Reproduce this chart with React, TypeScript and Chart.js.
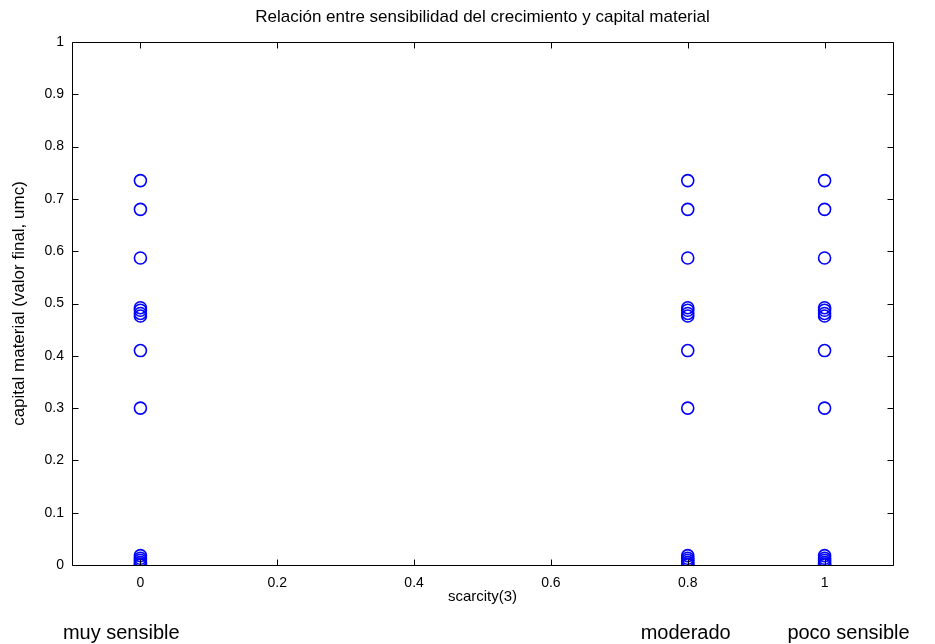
import React, { useEffect, useRef } from "react";
import { Chart, registerables } from "chart.js";

Chart.register(...registerables);

const chartTitle = "Relación entre sensibilidad del crecimiento y capital material";
const xAxisTitle = "scarcity(3)";
const yAxisTitle = "capital material (valor final, umc)";
const xCategories = [0, 0.8, 1];
const capitalValues = [0.735, 0.68, 0.587, 0.492, 0.487, 0.481, 0.476, 0.41, 0.3, 0.018, 0.013, 0.009, 0.005, 0.002, 0];
const xTicks = [0, 0.2, 0.4, 0.6, 0.8, 1];
const yTicks = [0, 0.1, 0.2, 0.3, 0.4, 0.5, 0.6, 0.7, 0.8, 0.9, 1];
const bottomLabels = ["muy sensible", "moderado", "poco sensible"];
const bottomLabelPos = [-0.028, 0.797, 1.035];

const FONT = "'Liberation Sans', Arial, sans-serif";

export default function App() {
  const ref = useRef<HTMLCanvasElement>(null);
  useEffect(() => {
    if (!ref.current) return;
    const points: { x: number; y: number }[] = [];
    xCategories.forEach((x) => capitalValues.forEach((y) => points.push({ x, y })));

    const framePlugin = {
      id: "frame",
      afterDraw(chart: any) {
        const { ctx, chartArea: a, scales } = chart;
        ctx.save();
        ctx.strokeStyle = "#000";
        ctx.lineWidth = 1;
        ctx.beginPath();
        const L = Math.round(a.left) + 0.5, R = Math.round(a.right) + 0.5;
        const T = Math.round(a.top) + 0.5, B = Math.round(a.bottom) + 0.5;
        ctx.rect(L, T, R - L, B - T);
        const tl = 6;
        xTicks.forEach((v) => {
          const px = Math.round(scales.x.getPixelForValue(v)) + 0.5;
          ctx.moveTo(px, B); ctx.lineTo(px, B - tl);
          ctx.moveTo(px, T); ctx.lineTo(px, T + tl);
        });
        yTicks.forEach((v) => {
          const py = Math.round(scales.y.getPixelForValue(v)) + 0.5;
          ctx.moveTo(L, py); ctx.lineTo(L + tl, py);
          ctx.moveTo(R, py); ctx.lineTo(R - tl, py);
        });
        ctx.stroke();
        ctx.fillStyle = "#000";
        ctx.font = `17px ${FONT}`;
        ctx.textAlign = "center";
        ctx.textBaseline = "middle";
        ctx.fillText(chartTitle, (a.left + a.right) / 2, 17);
        ctx.font = `20px ${FONT}`;
        ctx.textBaseline = "alphabetic";
        bottomLabels.forEach((t, i) => {
          ctx.fillText(t, scales.x.getPixelForValue(bottomLabelPos[i]), 639);
        });
        ctx.restore();
      },
    };

    const chart = new Chart(ref.current, {
      type: "scatter",
      data: {
        datasets: [
          {
            data: points,
            pointStyle: "circle",
            pointRadius: 6,
            pointHoverRadius: 6,
            borderColor: "#0000ff",
            backgroundColor: "rgba(0,0,0,0)",
            borderWidth: 1.6,
          },
        ],
      },
      options: {
        animation: false,
        responsive: false,
        events: [],
        layout: { padding: { left: 8, right: 42, top: 42, bottom: 38 } },
        plugins: { legend: { display: false }, tooltip: { enabled: false }, title: { display: false } },
        scales: {
          x: {
            type: "linear",
            min: -0.1,
            max: 1.1,
            afterBuildTicks: (s: any) => { s.ticks = xTicks.map((v) => ({ value: v })); },
            afterFit: (s: any) => { s.height = 41; },
            grid: { display: false, drawTicks: false },
            border: { display: false },
            ticks: { color: "#000", font: { family: FONT, size: 14 }, padding: 10, maxRotation: 0, callback: (v: any) => String(v) },
            title: { display: true, text: xAxisTitle, color: "#000", font: { family: FONT, size: 15 }, padding: { top: 0, bottom: 0 } },
          },
          y: {
            type: "linear",
            min: 0,
            max: 1,
            afterBuildTicks: (s: any) => { s.ticks = yTicks.map((v) => ({ value: v })); },
            afterFit: (s: any) => { s.width = 64; },
            grid: { display: false, drawTicks: false },
            border: { display: false },
            ticks: { color: "#000", font: { family: FONT, size: 14 }, padding: 8, callback: (v: any) => String(v) },
            title: { display: true, text: yAxisTitle, color: "#000", font: { family: FONT, size: 17 }, padding: { top: 1, bottom: 0 } },
          },
        },
      },
      plugins: [framePlugin],
    } as any);
    return () => chart.destroy();
  }, []);
  return (
    <div style={{ position: "absolute", left: 0, top: 0, width: 935, height: 644, background: "#fff" }}>
      <canvas ref={ref} width={935} height={644} style={{ display: "block" }} />
    </div>
  );
}
